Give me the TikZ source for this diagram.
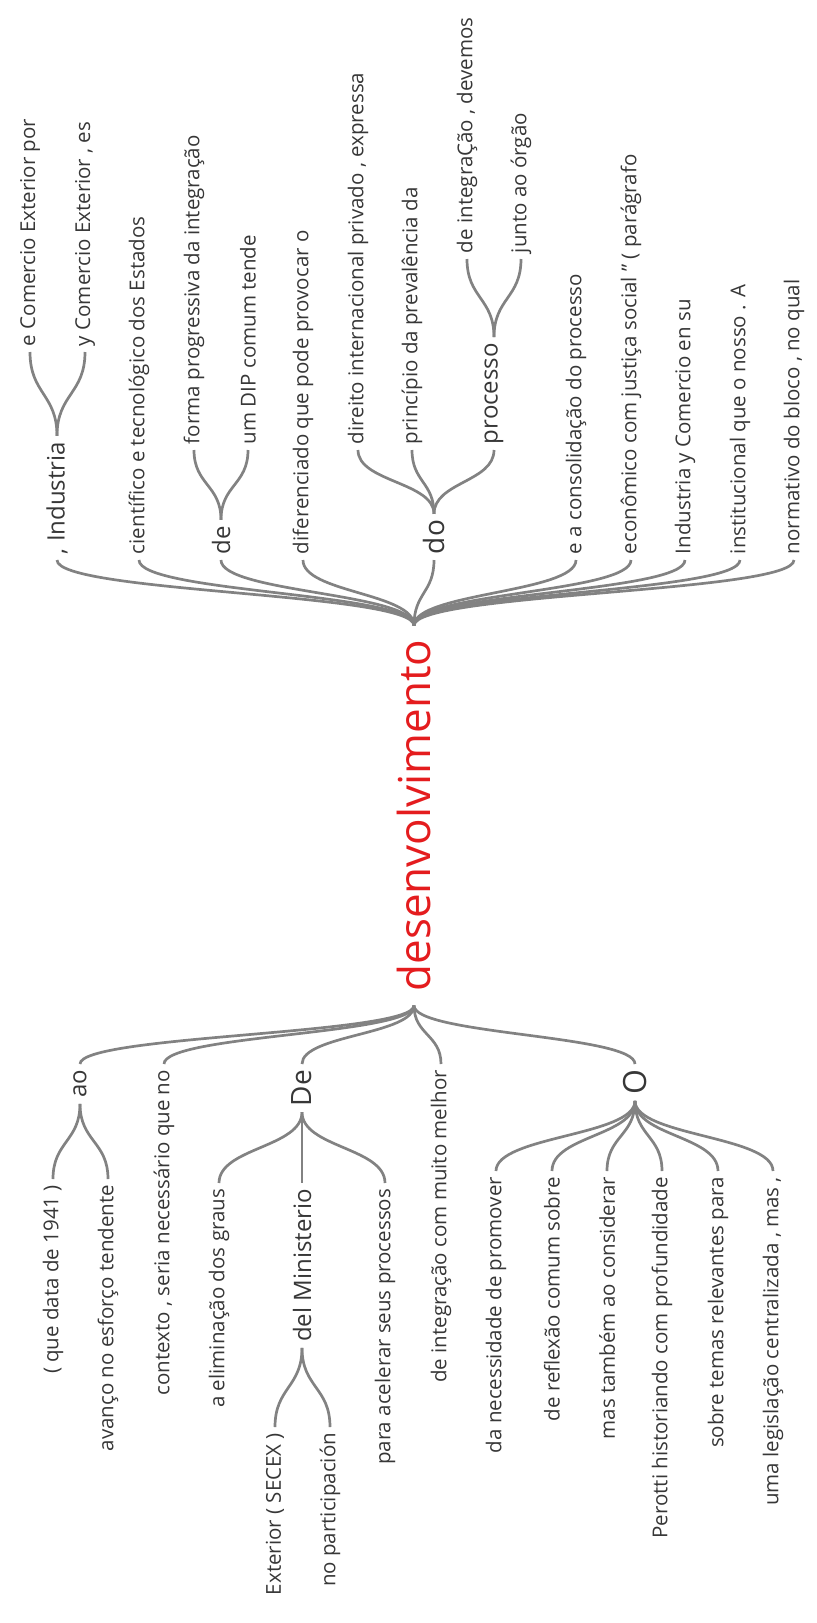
\documentclass[tikz,border=0pt]{standalone}
\usepackage{fontspec}
\setmainfont{Open Sans}
\usetikzlibrary{calc}

\definecolor{linkgray}{RGB}{130,130,130}
\definecolor{wordgray}{RGB}{55,55,55}
\definecolor{rootred}{RGB}{228,28,30}

\begin{document}
\begin{tikzpicture}[
    x=0.5pt, y=-0.5pt,
    word/.style={rotate=90, inner xsep=3pt, inner ysep=0pt, outer sep=0pt, text=wordgray, font=\fontsize{10.25}{12}\selectfont},
    rword/.style={word, anchor=west},
    lword/.style={word, anchor=east},
    wtwo/.style={font=\fontsize{12}{14}\selectfont},
    wthree/.style={font=\fontsize{14}{16}\selectfont},
    wsix/.style={font=\fontsize{16}{18}\selectfont},
    link/.style={draw=linkgray, line width=1.35pt, to path={.. controls ($(\tikztostart)!0.5!(\tikztostart|-\tikztotarget)$) and ($(\tikztotarget)!0.5!(\tikztotarget|-\tikztostart)$) .. (\tikztotarget)}}
]
\useasboundingbox (0,0) rectangle (816,1623);

\node[word, anchor=center, text=rootred, font=\fontsize{22}{24}\selectfont, inner xsep=7pt] (root) at (414,815.5) {desenvolvimento};

% what follows the word
\node[rword, wtwo] (ind) at (57,560) {, Industria};
\node[rword] (ecom) at (30,352) {e Comercio Exterior por};
\node[rword] (ycom) at (85,352) {y Comercio Exterior , es};
\node[rword] (cie) at (139,560) {científico e tecnológico dos Estados};
\node[rword, wtwo] (de1) at (221,560) {de};
\node[rword] (forma) at (194,450) {forma progressiva da integração};
\node[rword] (dip) at (248,450) {um DIP comum tende};
\node[rword] (dif) at (303,560) {diferenciado que pode provocar o};
\node[rword, wthree] (do1) at (434,560) {do};
\node[rword] (dir) at (358,450) {direito internacional privado , expressa};
\node[rword] (pri) at (412,450) {princípio da prevalência da};
\node[rword, wtwo] (proc) at (494,450) {processo};
\node[rword] (integ) at (467,259) {de integraÇão , devemos};
\node[rword] (junto) at (521,259) {junto ao órgão};
\node[rword] (cons) at (576,560) {e a consolidação do processo};
\node[rword] (eco) at (631,560) {econômico com justiça social ” ( parágrafo};
\node[rword] (indy) at (685,560) {Industria y Comercio en su};
\node[rword] (inst) at (740,560) {institucional que o nosso . A};
\node[rword] (norm) at (794,560) {normativo do bloco , no qual};

% what comes before it
\node[lword, wtwo] (ao) at (80,1064) {ao};
\node[lword] (data) at (53,1179) {( que data de 1941 )};
\node[lword] (avanco) at (108,1179) {avanço no esforço tendente};
\node[lword] (ctx) at (164,1064) {contexto , seria necessário que no};
\node[lword, wthree] (De1) at (302,1064) {De};
\node[lword] (elim) at (219,1183) {a eliminação dos graus};
\node[lword, wtwo] (min) at (302,1183) {del Ministerio};
\node[lword] (secex) at (275,1427) {Exterior ( SECEX )};
\node[lword] (part) at (330,1427) {no participación};
\node[lword] (acel) at (385,1183) {para acelerar seus processos};
\node[lword] (melhor) at (441,1064) {de integração com muito melhor};
\node[lword, wsix] (O1) at (635,1064) {O};
\node[lword] (neces) at (496,1171) {da necessidade de promover};
\node[lword] (refl) at (552,1171) {de reflexão comum sobre};
\node[lword] (mas) at (607,1171) {mas também ao considerar};
\node[lword] (perotti) at (662,1171) {Perotti historiando com profundidade};
\node[lword] (temas) at (718,1171) {sobre temas relevantes para};
\node[lword] (legis) at (773,1171) {uma legislação centralizada , mas ,};

\draw[link] (root.east) to (ind.west);
\draw[link] (root.east) to (cie.west);
\draw[link] (root.east) to (de1.west);
\draw[link] (root.east) to (dif.west);
\draw[link] (root.east) to (do1.west);
\draw[link] (root.east) to (cons.west);
\draw[link] (root.east) to (eco.west);
\draw[link] (root.east) to (indy.west);
\draw[link] (root.east) to (inst.west);
\draw[link] (root.east) to (norm.west);
\draw[link] (ind.east) to (ecom.west);
\draw[link] (ind.east) to (ycom.west);
\draw[link] (de1.east) to (forma.west);
\draw[link] (de1.east) to (dip.west);
\draw[link] (do1.east) to (dir.west);
\draw[link] (do1.east) to (pri.west);
\draw[link] (do1.east) to (proc.west);
\draw[link] (proc.east) to (integ.west);
\draw[link] (proc.east) to (junto.west);

\draw[link] (root.west) to (ao.east);
\draw[link] (root.west) to (ctx.east);
\draw[link] (root.west) to (De1.east);
\draw[link] (root.west) to (melhor.east);
\draw[link] (root.west) to (O1.east);
\draw[link] (ao.west) to (data.east);
\draw[link] (ao.west) to (avanco.east);
\draw[link] (De1.west) to (elim.east);
\draw[link] (De1.west) to (min.east);
\draw[link] (De1.west) to (acel.east);
\draw[link] (min.west) to (secex.east);
\draw[link] (min.west) to (part.east);
\draw[link] (O1.west) to (neces.east);
\draw[link] (O1.west) to (refl.east);
\draw[link] (O1.west) to (mas.east);
\draw[link] (O1.west) to (perotti.east);
\draw[link] (O1.west) to (temas.east);
\draw[link] (O1.west) to (legis.east);
\end{tikzpicture}
\end{document}
